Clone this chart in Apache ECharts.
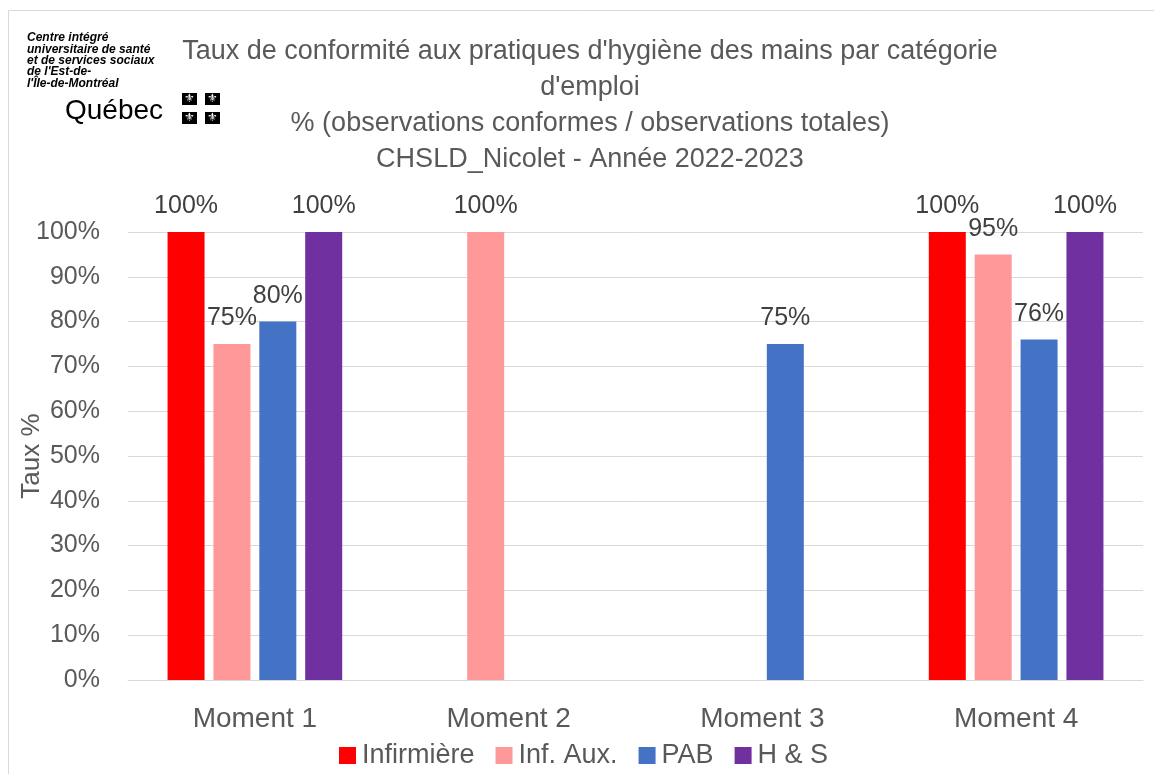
<!DOCTYPE html>
<html><head><meta charset="utf-8">
<script src="https://cdn.jsdelivr.net/npm/echarts@6/dist/echarts.min.js"></script>
<style>html,body{margin:0;padding:0;background:#fff}#c{width:1154px;height:774px}</style>
</head><body><div id="c"></div>
<script>
const categories = ['Moment 1', 'Moment 2', 'Moment 3', 'Moment 4'];
const infirmiere = [100, null, null, 100];
const infAux = [75, 100, null, 95];
const pab = [80, null, 75, 76];
const hs = [100, null, null, 100];
const yTicks = [0, 10, 20, 30, 40, 50, 60, 70, 80, 90, 100];
const titleLines = [
  "Taux de conformité aux pratiques d'hygiène des mains par catégorie",
  "d'emploi",
  "% (observations conformes / observations totales)",
  "CHSLD_Nicolet - Année 2022-2023"
];
const logoLines = ['Centre intégré', 'universitaire de santé', 'et de services sociaux', "de l'Est-de-", "l'Île-de-Montréal"];

const FONT = '"Liberation Sans", Arial, sans-serif';
const chart = echarts.init(document.getElementById('c'), null, {renderer: 'canvas'});

const labelCfg = {show: true, position: 'top', distance: 13, color: '#404040', fontSize: 25, fontFamily: FONT,
  formatter: p => p.value == null ? '' : p.value + '%'};

function mk(name, data, color) {
  return {name, type: 'bar', data, barWidth: 37, barGap: '24%', itemStyle: {color},
    label: labelCfg, emphasis: {disabled: true}};
}

const logoGraphics = logoLines.map((t, i) => ({
  type: 'text', left: 27, top: 32 + i * 11.3,
  style: {text: t, font: 'italic bold 12px ' + FONT, fill: '#000'}
}));
const flag = [];
[[182, 93], [205, 93], [182, 112], [205, 112]].forEach(([x, y]) => {
  flag.push({type: 'rect', shape: {x, y, width: 15, height: 12}, style: {fill: '#000'}});
  flag.push({type: 'text', x: x + 7.5, y: y + 6, style: {text: '⚜', font: '12px "DejaVu Sans"', fill: '#fff', align: 'center', verticalAlign: 'middle'}});
});

chart.setOption({
  animation: false,
  backgroundColor: '#fff',
  title: {
    text: titleLines.join('\n'), left: 585, top: 29, textAlign: 'center',
    textStyle: {color: '#595959', fontSize: 27, fontWeight: 'normal', fontFamily: FONT, lineHeight: 36}
  },
  legend: {
    data: ['Infirmière', 'Inf. Aux.', 'PAB', 'H & S'],
    left: 334, top: 737, itemWidth: 17, itemHeight: 17, itemGap: 21,
    icon: 'rect',
    textStyle: {color: '#595959', fontSize: 27, fontFamily: FONT, padding: [0, 0, 0, 1]}
  },
  grid: {left: 128, right: 11, top: 232, bottom: 94, containLabel: false, outerBoundsMode: 'none'},
  xAxis: {
    type: 'category', data: categories,
    axisLine: {lineStyle: {color: '#d9d9d9', width: 1}}, axisTick: {show: false},
    axisLabel: {color: '#595959', fontSize: 28, fontFamily: FONT, margin: 25}
  },
  yAxis: {
    type: 'value', min: 0, max: 100, interval: 10,
    name: 'Taux %', nameLocation: 'middle', nameGap: 83, nameRotate: 90, nameMoveOverlap: false,
    nameTextStyle: {color: '#595959', fontSize: 26, fontFamily: FONT},
    axisLine: {show: false}, axisTick: {show: false},
    splitLine: {lineStyle: {color: '#d9d9d9', width: 1}},
    axisLabel: {color: '#595959', fontSize: 25, fontFamily: FONT, margin: 28,
      formatter: v => yTicks.includes(v) ? v + '%' : ''}
  },
  series: [
    mk('Infirmière', infirmiere, '#ff0000'),
    mk('Inf. Aux.', infAux, '#ff9999'),
    mk('PAB', pab, '#4472c4'),
    mk('H & S', hs, '#7030a0')
  ],
  graphic: [
    {type: 'rect', shape: {x: 8.5, y: 10.5, width: 1200, height: 900}, style: {fill: 'none', stroke: '#d9d9d9', lineWidth: 1}, z: -1},
    ...logoGraphics,
    {type: 'text', x: 65, y: 111, style: {text: 'Québec', font: '28px ' + FONT, fill: '#000', verticalAlign: 'middle'}},
    ...flag
  ]
});
</script></body></html>
